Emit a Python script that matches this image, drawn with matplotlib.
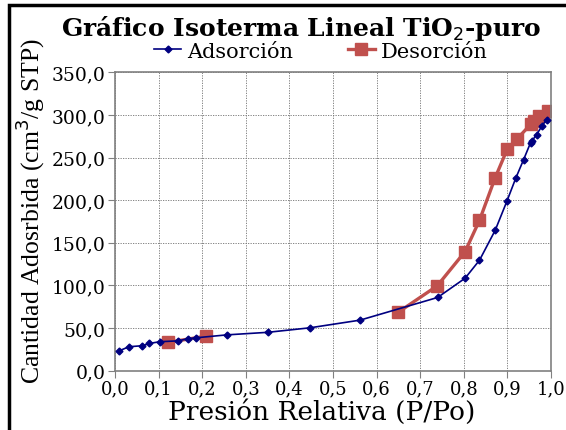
import matplotlib
matplotlib.use("agg")
import matplotlib.pyplot as plt
from matplotlib.patches import Rectangle

nan = float("nan")

# isotherm readings: relative pressure P/Po vs adsorbed volume (cm3/g STP)
ads_p = [0.010, 0.032, 0.063, 0.079, 0.103, 0.145, 0.167, 0.186, 0.256, 0.350,
         0.447, 0.562, 0.740, 0.803, 0.836, 0.872, 0.899, 0.919, 0.937, 0.953,
         0.957, 0.967, 0.979, 0.990]
ads_v = [23.4, 28.1, 29.3, 32.0, 34.0, 35.0, 37.5, 38.6, 42.0, 45.0,
         50.3, 59.3, 85.9, 108.5, 129.6, 164.7, 199.0, 225.6, 247.4, 267.3,
         270.0, 277.0, 286.8, 294.6]

# desorption branch; the gap (nan) leaves the low-pressure points unjoined
des_p = [0.994, 0.973, 0.962, 0.953, 0.921, 0.900, 0.872, 0.836, 0.803, 0.739,
         0.650, 0.40, 0.209, 0.122]
des_v = [304.3, 298.5, 293.0, 288.8, 271.2, 260.3, 226.4, 176.4, 139.8, 99.5,
         68.7, nan, 40.6, 33.2]

x_ticks = [i / 10 for i in range(11)]
y_ticks = list(range(0, 351, 50))

serif = "DejaVu Serif"

fig = plt.figure(figsize=(5.66, 4.31), dpi=100)
ax = fig.add_axes([0.2032, 0.1376, 0.7703, 0.6923])

ax.plot(des_p, des_v, color="#C0504D", linewidth=2.4, marker="s", markersize=8,
        label="Desorción", zorder=2)
ax.plot(ads_p, ads_v, color="#000080", linewidth=1.2, marker="D", markersize=3.5,
        label="Adsorción", zorder=3)

ax.set_xlim(0, 1)
ax.set_ylim(0, 350)
ax.set_xticks(x_ticks)
ax.set_yticks(y_ticks)
ax.set_xticklabels([f"{t:.1f}".replace(".", ",") for t in x_ticks], fontsize=13, family=serif)
ax.set_yticklabels([f"{t:.1f}".replace(".", ",") for t in y_ticks], fontsize=13.5, family=serif)
ax.tick_params(direction="out", length=5, color="#808080", pad=2)
ax.tick_params(axis="x", pad=1.5)
ax.grid(True, color="#707070", linestyle=(0, (1.5, 1.5)), linewidth=0.6)
for s in ax.spines.values():
    s.set_color("#808080")
    s.set_linewidth(1.2)

ax.set_xlabel("Presión Relativa (P/Po)", fontsize=19, family=serif)
ax.xaxis.label.set_va("baseline")
ax.xaxis.set_label_coords(0.473, -0.163)
ax.set_ylabel("Cantidad Adosrbida (cm$^3$/g STP)", fontsize=18.5, family="Liberation Serif")
ax.yaxis.label.set_va("center")
ax.yaxis.set_label_coords(-0.195, 0.538)

fig.text(0.532, 0.935, "Gráfico Isoterma Lineal TiO$_2$-puro", ha="center", va="center",
         fontsize=18, fontweight="bold", family=serif)

h, l = ax.get_legend_handles_labels()
fig.legend(h[::-1], l[::-1], loc="center", bbox_to_anchor=(0.567, 0.879), ncol=2,
           frameon=False, prop={"family": serif, "size": 15}, handlelength=1.3,
           columnspacing=2.6, handletextpad=0.3, borderpad=0)

# outer chart frame (clipped at right and bottom)
fig.patches.append(Rectangle((0.016, -0.1), 1.2, 1.085, transform=fig.transFigure,
                             fill=False, edgecolor="black", linewidth=2.5))

fig.savefig("out.png", dpi=100)
